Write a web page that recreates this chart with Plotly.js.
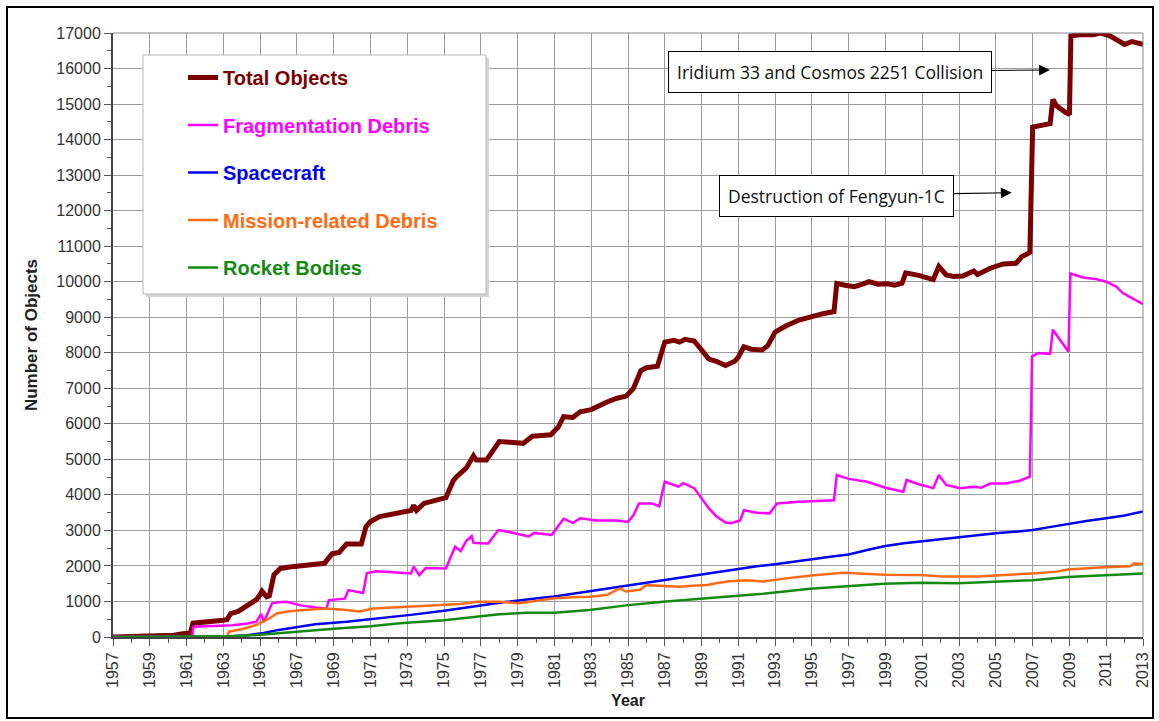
<!DOCTYPE html>
<html>
<head>
<meta charset="utf-8">
<script src="https://cdn.plot.ly/plotly-3.0.1.min.js"></script>
<style>
  html, body { margin: 0; padding: 0; background: #fff; }
  #wrap { position: relative; width: 1159px; height: 721px; }
  #chart { width: 1159px; height: 721px; }
  #frame { position: absolute; left: 6px; top: 6px; width: 1144px; height: 709px; border: 2px solid #000; pointer-events: none; }
</style>
</head>
<body>
<div id="wrap"><div id="chart"></div><div id="frame"></div></div>
<script>
// ---------- DATA ----------
const seriesNames = ["Total Objects", "Fragmentation Debris", "Spacecraft", "Mission-related Debris", "Rocket Bodies"];

const totalYear = [1957.0,1957.8,1958.5,1959.5,1960.3,1960.8,1961.2,1961.35,1962.0,1962.5,1963.0,1963.2,1963.4,1963.8,1964.3,1964.8,1965.0,1965.1,1965.35,1965.5,1965.75,1966.1,1966.6,1967.2,1967.8,1968.5,1968.9,1969.3,1969.7,1970.5,1970.75,1971.0,1971.5,1972.0,1972.7,1973.2,1973.35,1973.5,1973.9,1974.6,1975.1,1975.5,1975.7,1976.2,1976.6,1976.75,1977.3,1977.8,1978.0,1978.6,1979.3,1979.8,1980.8,1981.2,1981.5,1982.0,1982.4,1983.0,1983.3,1983.8,1984.4,1984.9,1985.3,1985.7,1986.0,1986.6,1987.0,1987.5,1987.8,1988.1,1988.6,1989.0,1989.4,1989.8,1990.3,1990.8,1991.0,1991.3,1991.7,1992.3,1992.6,1993.0,1993.6,1994.3,1995.0,1995.6,1996.2,1996.35,1996.8,1997.3,1997.8,1998.1,1998.6,1999.1,1999.5,1999.9,2000.1,2000.8,2001.6,2001.9,2002.3,2002.7,2003.2,2003.8,2004.0,2004.7,2005.4,2006.1,2006.4,2006.85,2007.0,2007.5,2007.95,2008.1,2008.3,2008.75,2009.0,2009.08,2009.7,2010.3,2010.7,2011.2,2011.6,2012.0,2012.4,2012.8,2013.0];
const totalCount = [0,5,15,30,50,90,110,390,410,440,470,490,660,720,880,1050,1200,1290,1130,1160,1750,1930,1970,2000,2030,2075,2340,2380,2620,2620,3100,3250,3390,3440,3500,3560,3700,3560,3760,3840,3920,4400,4520,4750,5100,4980,4980,5350,5500,5480,5450,5650,5690,5900,6200,6180,6340,6400,6485,6600,6720,6780,7000,7500,7580,7620,8300,8350,8300,8380,8330,8050,7820,7760,7640,7760,7880,8170,8100,8080,8200,8580,8760,8920,9030,9100,9160,9950,9900,9860,9940,10000,9930,9940,9900,9960,10250,10180,10060,10430,10190,10150,10160,10300,10200,10380,10500,10520,10700,10820,14350,14420,14450,15130,14950,14780,14700,16920,16960,16950,17000,16920,16800,16680,16760,16700,16680];

const fragYear = [1957.0,1961.3,1961.38,1962.0,1963.0,1963.5,1964.3,1964.8,1965.05,1965.2,1965.65,1966.0,1966.45,1967.2,1968.0,1968.6,1968.75,1969.6,1969.8,1970.6,1970.8,1971.3,1972.0,1973.2,1973.35,1973.65,1974.0,1975.1,1975.4,1975.6,1975.9,1976.2,1976.5,1976.6,1977.0,1977.4,1977.95,1978.6,1979.6,1979.9,1980.85,1981.1,1981.5,1982.0,1982.4,1983.3,1984.4,1985.0,1985.3,1985.6,1986.3,1986.7,1987.0,1987.75,1988.0,1988.6,1989.0,1989.4,1989.8,1990.3,1990.6,1991.1,1991.3,1992.0,1992.7,1993.1,1994.3,1995.3,1996.2,1996.35,1997.0,1998.0,1999.0,1999.97,2000.15,2000.8,2001.6,2001.9,2002.3,2003.05,2003.8,2004.2,2004.7,2005.5,2006.3,2006.85,2006.97,2007.3,2007.95,2008.1,2008.95,2009.05,2009.75,2010.5,2011.0,2011.55,2011.9,2013.0];
const fragCount = [0,0,290,300,310,330,380,430,650,420,950,980,990,890,830,805,1040,1080,1320,1240,1790,1850,1830,1790,1980,1740,1940,1930,2300,2540,2420,2700,2840,2650,2640,2630,3010,2950,2830,2930,2870,3050,3330,3210,3340,3280,3280,3240,3430,3760,3760,3680,4370,4230,4330,4190,3900,3620,3400,3220,3200,3280,3570,3500,3480,3760,3810,3840,3850,4560,4450,4370,4200,4090,4420,4300,4190,4560,4280,4190,4230,4200,4320,4320,4400,4510,7900,7990,7970,8650,8030,10230,10120,10070,10000,9860,9680,9370];

const craftYear = [1957,1961,1962,1963.3,1964.3,1965.2,1966,1967,1968,1969.7,1971.5,1973.3,1975,1976.6,1978.4,1980.2,1981,1982,1983,1984,1985,1986,1987,1988,1989,1990,1991,1992,1993,1994,1995,1996,1997,1998,1999,2000,2001,2002,2003,2004,2005,2006,2007,2008,2009,2010,2011,2012,2013];
const craftCount = [0,0,5,15,50,110,200,290,360,430,525,630,740,860,990,1100,1140,1220,1290,1380,1450,1530,1610,1690,1760,1840,1910,1990,2050,2130,2190,2260,2320,2450,2560,2640,2700,2750,2800,2860,2920,2960,3010,3100,3190,3270,3340,3420,3530];

const missionYear = [1957,1963.2,1963.3,1964.0,1964.8,1965.5,1965.9,1966.5,1967.2,1968.6,1969.7,1970.4,1971.15,1972.5,1974.4,1975.9,1976.8,1978.0,1979.1,1980.2,1981.0,1982.0,1982.9,1983.85,1984.55,1984.9,1985.65,1986.0,1987.2,1987.8,1988.5,1989.3,1989.8,1990.5,1991.45,1992.35,1993.6,1995.1,1996.7,1998.0,1999.0,2000.9,2002.1,2004.0,2005.8,2007.0,2008.3,2008.9,2010.85,2012.3,2012.5,2013.0];
const missionCount = [0,0,150,220,340,520,660,720,750,800,760,720,800,840,900,930,990,990,950,1040,1090,1120,1135,1180,1370,1280,1330,1460,1435,1415,1440,1465,1510,1570,1600,1560,1650,1740,1810,1780,1750,1745,1700,1700,1745,1790,1840,1900,1960,1990,2070,2060];

const rocketYear = [1957,1961,1962,1963.3,1965,1967,1969,1971,1972.6,1975,1976.5,1978,1979.5,1981,1982.9,1984.9,1986.9,1988.9,1991,1992.35,1994.9,1996.9,1998.9,2000.9,2002.9,2004.9,2007,2008.9,2010.9,2013];
const rocketCount = [0,0,10,20,60,150,230,300,385,470,560,640,680,680,760,890,990,1080,1170,1220,1360,1430,1500,1530,1510,1555,1600,1690,1740,1790];

const annotationTexts = ["Iridium 33 and Cosmos 2251 Collision", "Destruction of Fengyun-1C"];
const annotationYear = [2007.94, 2005.86];
const annotationCount = [15960, 12505];

// ---------- STYLES ----------
const colors = ["#7b0000", "#ff00ff", "#0000ee", "#ff6a13", "#128a12"];
const widths = [5, 2.5, 2.5, 2.5, 2.5];
const xs = [totalYear, fragYear, craftYear, missionYear, rocketYear];
const ys = [totalCount, fragCount, craftCount, missionCount, rocketCount];

const traces = seriesNames.map((n, i) => ({
  type: "scatter", mode: "lines",
  x: xs[i], y: ys[i],
  name: '<b><span style="color:' + colors[i] + '">' + n + '</span></b>',
  legendgroup: "g" + i,
  line: { color: colors[i], width: widths[i], shape: "linear" },
  hoverinfo: "x+y"
}));

// plot-area pixel geometry helpers (for legend box placement)
const L = 113, T = 33, W = 1030, H = 604;
const px = v => (v - L) / W;
const py = v => (T + H - v) / H;

const layout = {
  width: 1159, height: 721,
  margin: { l: L, r: 1159 - L - W, t: T, b: 721 - T - H },
  paper_bgcolor: "#ffffff", plot_bgcolor: "#ffffff",
  font: { family: "Arial, Liberation Sans, sans-serif", color: "#333" },
  showlegend: true,
  legend: {
    x: px(183), y: py(58), xanchor: "left", yanchor: "top",
    bgcolor: "rgba(0,0,0,0)", borderwidth: 0,
    font: { size: 20, family: "Arial, Liberation Sans, sans-serif" },
    tracegroupgap: 18.5, itemwidth: 30
  },
  xaxis: {
    range: [1957, 2013], tick0: 1957, dtick: 2, tickmode: "linear",
    tickangle: -90, ticks: "outside", ticklen: 7, tickcolor: "#555",
    tickfont: { size: 16, color: "#333" },
    showgrid: true, gridcolor: "#9c9c9c", gridwidth: 1,
    minor: { dtick: 1, ticks: "outside", ticklen: 4, tickcolor: "#555", showgrid: false },
    showline: true, linecolor: "#444", linewidth: 2, zeroline: false,
    title: { text: "<b>Year</b>", font: { size: 16, color: "#222" }, standoff: 8 }
  },
  yaxis: {
    range: [0, 17000], tick0: 0, dtick: 1000, tickmode: "linear", tickformat: "d",
    ticks: "outside", ticklen: 7, tickcolor: "#555",
    tickfont: { size: 16, color: "#333" },
    showgrid: true, gridcolor: "#9c9c9c", gridwidth: 1,
    minor: { dtick: 500, ticks: "outside", ticklen: 4, tickcolor: "#555", showgrid: false },
    showline: true, linecolor: "#444", linewidth: 2, zeroline: false,
    title: { text: "<b>Number of Objects</b>", font: { size: 17, color: "#222" }, standoff: 14 }
  },
  shapes: [
    { type: "rect", xref: "paper", yref: "paper", x0: px(146), x1: px(489), y0: py(297), y1: py(58),
      fillcolor: "#d4d4d4", line: { width: 0 }, layer: "above" },
    { type: "rect", xref: "paper", yref: "paper", x0: px(143), x1: px(486), y0: py(294), y1: py(55),
      fillcolor: "#ffffff", line: { color: "#b5b5b5", width: 1 }, layer: "above" },
    { type: "line", xref: "paper", yref: "paper", x0: 1, x1: 1, y0: 0, y1: 1, line: { color: "#888", width: 1 } },
    { type: "line", xref: "paper", yref: "paper", x0: 0, x1: 1, y0: 1, y1: 1, line: { color: "#888", width: 1 } }
  ],
  annotations: [
    { x: annotationYear[0], y: annotationCount[0], xref: "x", yref: "y",
      text: annotationTexts[0], showarrow: true, ax: -220, ay: 2,
      arrowhead: 2, arrowsize: 1.8, arrowwidth: 1.2, arrowcolor: "#000",
      font: { family: "Open Sans, Noto Sans, sans-serif", size: 17.5, color: "#111" },
      bgcolor: "#ffffff", bordercolor: "#000", borderwidth: 1, borderpad: 8 },
    { x: annotationYear[1], y: annotationCount[1], xref: "x", yref: "y",
      text: annotationTexts[1], showarrow: true, ax: -175, ay: 3,
      arrowhead: 2, arrowsize: 1.8, arrowwidth: 1.2, arrowcolor: "#000",
      font: { family: "Open Sans, Noto Sans, sans-serif", size: 17.5, color: "#111" },
      bgcolor: "#ffffff", bordercolor: "#000", borderwidth: 1, borderpad: 8 }
  ]
};

Plotly.newPlot("chart", traces, layout, { displayModeBar: false, staticPlot: true });
</script>
</body>
</html>
